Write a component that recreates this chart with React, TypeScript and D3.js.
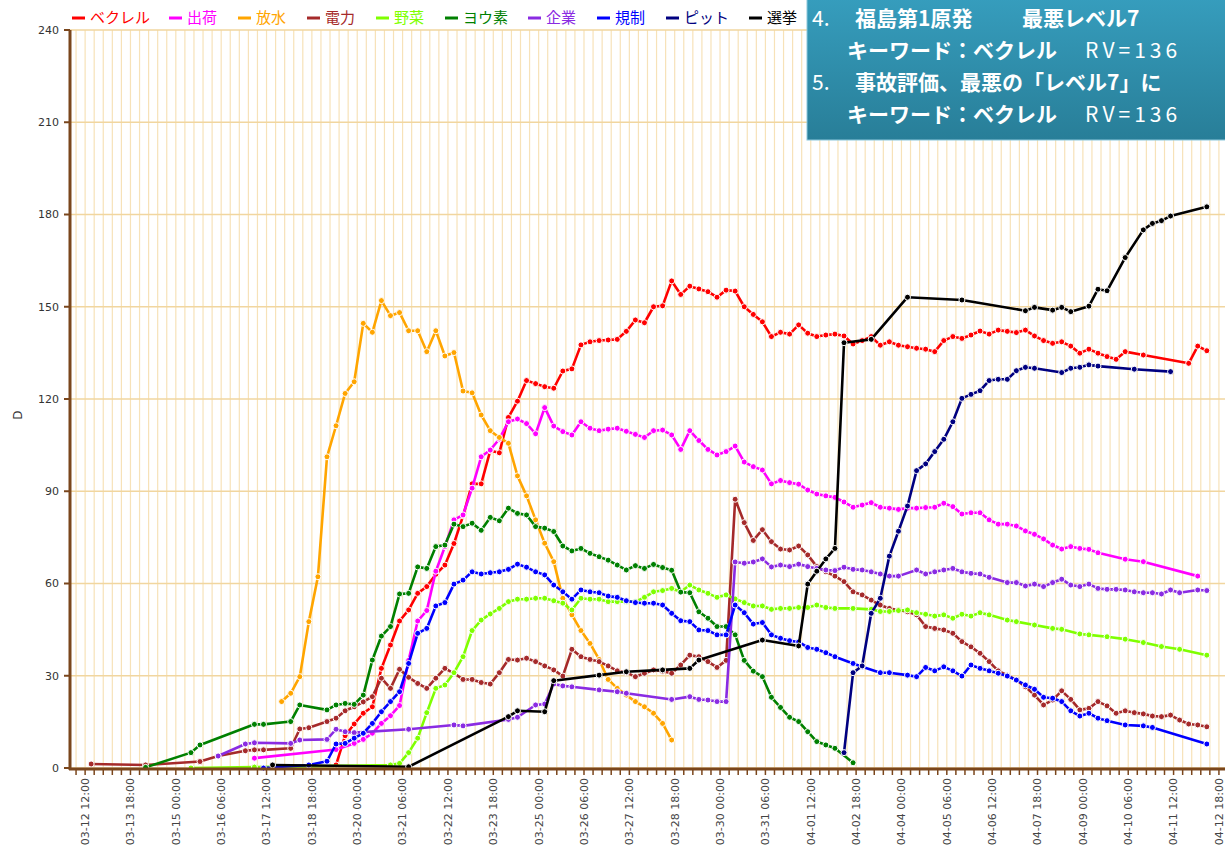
import React from 'react';
import * as d3 from 'd3';

type Pt = [string, number];

const tickLabels = [
  '03-12 12:00', '03-13 18:00', '03-15 00:00', '03-16 06:00', '03-17 12:00', '03-18 18:00',
  '03-20 00:00', '03-21 06:00', '03-22 12:00', '03-23 18:00', '03-25 00:00', '03-26 06:00',
  '03-27 12:00', '03-28 18:00', '03-30 00:00', '03-31 06:00', '04-01 12:00', '04-02 18:00',
  '04-04 00:00', '04-05 06:00', '04-06 12:00', '04-07 18:00', '04-09 00:00', '04-10 06:00',
  '04-11 12:00', '04-12 18:00',
];
const yTicks = [0, 30, 60, 90, 120, 150, 180, 210, 240];

const becquerel: Pt[] = [
  ['03-19 10', 1], ['03-19 16', 10.5], ['03-19 22', 14.3], ['03-20 04', 17.8], ['03-20 10', 19.9],
  ['03-20 16', 32.4], ['03-20 22', 40], ['03-21 04', 47.8], ['03-21 10', 51.4], ['03-21 16', 56.8],
  ['03-21 22', 59], ['03-22 04', 63], ['03-22 10', 66], ['03-22 16', 73], ['03-22 22', 82],
  ['03-23 04', 92.4], ['03-23 10', 92.4], ['03-23 16', 103.2], ['03-23 22', 102.5], ['03-24 04', 114],
  ['03-24 10', 119.3], ['03-24 16', 126], ['03-24 22', 125], ['03-25 04', 124], ['03-25 10', 123.5],
  ['03-25 16', 129.1], ['03-25 22', 129.8], ['03-26 04', 137.6], ['03-26 10', 138.6], ['03-26 16', 139],
  ['03-26 22', 139.2], ['03-27 04', 139.4], ['03-27 10', 142], ['03-27 16', 145.7], ['03-27 22', 144.8],
  ['03-28 04', 150], ['03-28 10', 150.3], ['03-28 16', 158.4], ['03-28 22', 154], ['03-29 04', 156.7],
  ['03-29 10', 155.8], ['03-29 16', 154.9], ['03-29 22', 153.1], ['03-30 04', 155.4], ['03-30 10', 155.1],
  ['03-30 16', 150], ['03-30 22', 147.5], ['03-31 04', 145.1], ['03-31 10', 140.3], ['03-31 16', 141.7],
  ['03-31 22', 141.1], ['04-01 04', 144.1], ['04-01 10', 141.4], ['04-01 16', 140.3], ['04-01 22', 140.8],
  ['04-02 04', 141.1], ['04-02 10', 140.5], ['04-02 16', 137.9], ['04-02 22', 139], ['04-03 04', 140.3],
  ['04-03 10', 137.5], ['04-03 16', 138.6], ['04-03 22', 137.5], ['04-04 04', 137], ['04-04 10', 136.5],
  ['04-04 16', 136.2], ['04-04 22', 135.4], ['04-05 04', 139], ['04-05 10', 140.3], ['04-05 16', 139.7],
  ['04-05 22', 140.8], ['04-06 04', 142.1], ['04-06 10', 141.1], ['04-06 16', 142.4], ['04-06 22', 142],
  ['04-07 04', 141.6], ['04-07 10', 142.4], ['04-07 16', 140.5], ['04-07 22', 139], ['04-08 04', 138.1],
  ['04-08 10', 138.6], ['04-08 16', 137.2], ['04-08 22', 134.9], ['04-09 04', 136.2], ['04-09 10', 134.9],
  ['04-09 16', 133.8], ['04-09 22', 132.9], ['04-10 04', 135.4], ['04-10 16', 134.3], ['04-11 22', 131.6],
  ['04-12 04', 137.2], ['04-12 10', 135.7],
];

const shipment: Pt[] = [
  ['03-17 04', 3.2], ['03-19 10', 6], ['03-19 22', 8], ['03-20 04', 9.3], ['03-20 10', 11.3],
  ['03-20 16', 14.5], ['03-20 22', 17], ['03-21 04', 20.3], ['03-21 10', 35], ['03-21 16', 47.8],
  ['03-21 22', 51.2], ['03-22 04', 64], ['03-22 10', 72], ['03-22 16', 80.7], ['03-22 22', 82.3],
  ['03-23 04', 91], ['03-23 10', 101.2], ['03-23 16', 103.4], ['03-23 22', 107], ['03-24 04', 112.6],
  ['03-24 10', 113.5], ['03-24 16', 112], ['03-24 22', 108.7], ['03-25 04', 117.2], ['03-25 10', 111.2],
  ['03-25 16', 109.4], ['03-25 22', 108.3], ['03-26 04', 112.6], ['03-26 10', 110.5], ['03-26 16', 109.7],
  ['03-26 22', 110.2], ['03-27 04', 110.5], ['03-27 10', 109.5], ['03-27 16', 108.5], ['03-27 22', 107.5],
  ['03-28 04', 109.7], ['03-28 10', 109.9], ['03-28 16', 108.3], ['03-28 22', 103.6], ['03-29 04', 109.7],
  ['03-29 10', 106.5], ['03-29 16', 103.6], ['03-29 22', 101.8], ['03-30 04', 102.9], ['03-30 10', 104.7],
  ['03-30 16', 99.5], ['03-30 22', 98], ['03-31 04', 96.9], ['03-31 10', 92.4], ['03-31 16', 93.5],
  ['03-31 22', 92.8], ['04-01 04', 92.3], ['04-01 10', 90.4], ['04-01 16', 89.1], ['04-01 22', 88.5],
  ['04-02 04', 88], ['04-02 10', 86.5], ['04-02 16', 84.8], ['04-02 22', 85.5], ['04-03 04', 86.3],
  ['04-03 10', 84.8], ['04-03 16', 84.5], ['04-03 22', 84.1], ['04-04 04', 84.5], ['04-04 10', 84.5],
  ['04-04 16', 84.7], ['04-04 22', 84.8], ['04-05 04', 86.1], ['04-05 10', 85], ['04-05 16', 82.6],
  ['04-05 22', 83], ['04-06 04', 83], ['04-06 10', 80.7], ['04-06 16', 79.3], ['04-06 22', 79.3],
  ['04-07 04', 78.7], ['04-07 10', 77.1], ['04-07 16', 76], ['04-07 22', 74.5], ['04-08 04', 72.5],
  ['04-08 10', 71.2], ['04-08 16', 72], ['04-08 22', 71.4], ['04-09 04', 71.1], ['04-09 10', 70],
  ['04-10 04', 67.9], ['04-10 16', 67.1], ['04-12 04', 62.4],
];

const water: Pt[] = [
  ['03-17 22', 21.6], ['03-18 04', 24.3], ['03-18 10', 29.7], ['03-18 16', 47.6], ['03-18 22', 62.2],
  ['03-19 04', 101.2], ['03-19 10', 111.3], ['03-19 16', 121.8], ['03-19 22', 125.6], ['03-20 04', 144.6],
  ['03-20 10', 141.7], ['03-20 16', 152], ['03-20 22', 147.1], ['03-21 04', 148.1], ['03-21 10', 142.2],
  ['03-21 16', 142.2], ['03-21 22', 135.4], ['03-22 04', 142.2], ['03-22 10', 134], ['03-22 16', 135.1],
  ['03-22 22', 122.6], ['03-23 04', 122], ['03-23 10', 114.8], ['03-23 16', 109.7], ['03-23 22', 107.5],
  ['03-24 04', 105.6], ['03-24 10', 95], ['03-24 16', 88.5], ['03-24 22', 80.7], ['03-25 04', 73.1],
  ['03-25 10', 67.1], ['03-25 16', 55.2], ['03-25 22', 49.8], ['03-26 04', 44.7], ['03-26 10', 40.5],
  ['03-26 16', 35.3], ['03-26 22', 28.8], ['03-27 04', 25.9], ['03-27 10', 23.7], ['03-27 16', 21.6],
  ['03-27 22', 19.9], ['03-28 04', 17.8], ['03-28 10', 14.5], ['03-28 16', 9.1],
];

const power: Pt[] = [
  ['03-12 16', 1.3], ['03-14 04', 1], ['03-15 16', 2.1], ['03-16 04', 3.9], ['03-16 22', 5.6],
  ['03-17 04', 5.9], ['03-17 10', 5.9], ['03-18 04', 6.4], ['03-18 10', 12.7], ['03-18 16', 13.1],
  ['03-19 04', 15.1], ['03-19 10', 16.2], ['03-19 16', 18.6], ['03-19 22', 19.9], ['03-20 04', 21.5],
  ['03-20 10', 23.2], ['03-20 16', 29.2], ['03-20 22', 25.9], ['03-21 04', 32.1], ['03-21 10', 29.5],
  ['03-21 16', 27.5], ['03-21 22', 25.9], ['03-22 04', 29.2], ['03-22 10', 32.4], ['03-22 16', 30.8],
  ['03-22 22', 28.8], ['03-23 04', 28.8], ['03-23 10', 27.8], ['03-23 16', 27.3], ['03-23 22', 31],
  ['03-24 04', 35.3], ['03-24 10', 35.1], ['03-24 16', 35.7], ['03-24 22', 34.6], ['03-25 04', 33.2],
  ['03-25 10', 31.9], ['03-25 16', 29.9], ['03-25 22', 38.6], ['03-26 04', 36.2], ['03-26 10', 35.3],
  ['03-26 16', 34.6], ['03-26 22', 33.2], ['03-27 04', 31.6], ['03-27 10', 31], ['03-27 16', 29.7],
  ['03-27 22', 30.8], ['03-28 04', 31.9], ['03-28 10', 31.5], ['03-28 16', 30.8], ['03-28 22', 33.5],
  ['03-29 04', 36.7], ['03-29 10', 36.2], ['03-29 16', 34.6], ['03-29 22', 32.7], ['03-30 04', 35],
  ['03-30 10', 87.4], ['03-30 16', 79.8], ['03-30 22', 74], ['03-31 04', 77.5], ['03-31 10', 73.6],
  ['03-31 16', 71.2], ['03-31 22', 70.9], ['04-01 04', 72.2], ['04-01 10', 69.3], ['04-01 16', 65.5],
  ['04-01 22', 63.8], ['04-02 04', 62.4], ['04-02 10', 60.6], ['04-02 16', 57.3], ['04-02 22', 56.3],
  ['04-03 04', 54.6], ['04-03 10', 53], ['04-03 16', 51.9], ['04-03 22', 51.4], ['04-04 04', 50.8],
  ['04-04 10', 49.8], ['04-04 16', 46], ['04-04 22', 45.4], ['04-05 04', 44.9], ['04-05 10', 43.8],
  ['04-05 16', 41.1], ['04-05 22', 39.4], ['04-06 04', 37.3], ['04-06 10', 34.6], ['04-06 16', 31.6],
  ['04-06 22', 30.2], ['04-07 04', 28.6], ['04-07 10', 26.4], ['04-07 16', 23.7], ['04-07 22', 20.5],
  ['04-08 04', 22.1], ['04-08 10', 25.1], ['04-08 16', 22.3], ['04-08 22', 18.9], ['04-09 04', 19.4],
  ['04-09 10', 21.6], ['04-09 16', 20.2], ['04-09 22', 17.8], ['04-10 04', 18.6], ['04-10 10', 18],
  ['04-10 16', 17.6], ['04-10 22', 16.9], ['04-11 04', 16.7], ['04-11 10', 17.2], ['04-11 16', 15.6],
  ['04-11 22', 14.3], ['04-12 04', 14], ['04-12 10', 13.4],
];

const vegetables: Pt[] = [
  ['03-15 10', 0], ['03-17 04', 0.3], ['03-20 22', 1], ['03-21 04', 1.5], ['03-21 10', 5],
  ['03-21 16', 9.7], ['03-21 22', 18], ['03-22 04', 25.9], ['03-22 10', 27], ['03-22 16', 31],
  ['03-22 22', 36.2], ['03-23 04', 44.7], ['03-23 10', 48.1], ['03-23 16', 50.1], ['03-23 22', 51.9],
  ['03-24 04', 54.1], ['03-24 10', 54.9], ['03-24 16', 54.9], ['03-24 22', 55.2], ['03-25 04', 55.2],
  ['03-25 10', 54.4], ['03-25 16', 53.6], ['03-25 22', 51.4], ['03-26 04', 55.2], ['03-26 10', 54.9],
  ['03-26 16', 54.9], ['03-26 22', 54.1], ['03-27 04', 54.1], ['03-27 10', 54.1], ['03-27 16', 54.1],
  ['03-27 22', 55.5], ['03-28 04', 57.3], ['03-28 10', 57.7], ['03-28 16', 58.4], ['03-28 22', 57.3],
  ['03-29 04', 59.5], ['03-29 10', 57.9], ['03-29 16', 56.8], ['03-29 22', 55.5], ['03-30 04', 56.3],
  ['03-30 10', 55], ['03-30 16', 53.8], ['03-30 22', 52.7], ['03-31 04', 52.7], ['03-31 10', 51.6],
  ['03-31 16', 51.9], ['03-31 22', 51.9], ['04-01 04', 52.2], ['04-01 10', 52.2], ['04-01 16', 53],
  ['04-01 22', 52.2], ['04-02 04', 51.9], ['04-02 16', 51.9], ['04-03 04', 51.6], ['04-03 10', 50.9],
  ['04-03 16', 50.9], ['04-03 22', 51.2], ['04-04 04', 51.4], ['04-04 10', 50.5], ['04-04 16', 50],
  ['04-04 22', 49.4], ['04-05 04', 49.8], ['04-05 10', 48.7], ['04-05 16', 50], ['04-05 22', 49.4],
  ['04-06 04', 50.5], ['04-06 10', 49.8], ['04-06 22', 48.1], ['04-07 04', 47.6], ['04-07 16', 46.5],
  ['04-08 04', 45.4], ['04-08 10', 45.1], ['04-08 22', 43.6], ['04-09 04', 43.3], ['04-09 16', 42.7],
  ['04-10 04', 41.9], ['04-10 16', 40.8], ['04-11 04', 39.5], ['04-11 16', 38.6], ['04-12 10', 36.7],
];

const iodine: Pt[] = [
  ['03-14 04', 0.2], ['03-15 10', 5], ['03-15 16', 7.5], ['03-17 04', 14.2], ['03-17 10', 14.2],
  ['03-18 04', 15.1], ['03-18 10', 20.5], ['03-19 04', 18.9], ['03-19 10', 20.5], ['03-19 16', 21],
  ['03-19 22', 20.7], ['03-20 04', 23.7], ['03-20 10', 35.1], ['03-20 16', 42.9], ['03-20 22', 46],
  ['03-21 04', 56.6], ['03-21 10', 56.8], ['03-21 16', 65.4], ['03-21 22', 64.9], ['03-22 04', 72],
  ['03-22 10', 72.5], ['03-22 16', 79.3], ['03-22 22', 78.5], ['03-23 04', 79.6], ['03-23 10', 77.3],
  ['03-23 16', 81.5], ['03-23 22', 80.4], ['03-24 04', 84.5], ['03-24 10', 82.8], ['03-24 16', 82.3],
  ['03-24 22', 78.5], ['03-25 04', 78], ['03-25 10', 76.9], ['03-25 16', 72.2], ['03-25 22', 70.6],
  ['03-26 04', 71.4], ['03-26 10', 69.8], ['03-26 16', 68.7], ['03-26 22', 67.6], ['03-27 04', 66],
  ['03-27 10', 64.4], ['03-27 16', 65.8], ['03-27 22', 64.9], ['03-28 04', 66.2], ['03-28 10', 65.2],
  ['03-28 16', 64.3], ['03-28 22', 57.2], ['03-29 04', 57], ['03-29 10', 50.8], ['03-29 16', 48.7],
  ['03-29 22', 46], ['03-30 04', 46], ['03-30 10', 43.3], ['03-30 16', 35], ['03-30 22', 31.5],
  ['03-31 04', 29.7], ['03-31 10', 23], ['03-31 16', 19.7], ['03-31 22', 16.5], ['04-01 04', 15.1],
  ['04-01 10', 11.8], ['04-01 16', 8.6], ['04-01 22', 7.5], ['04-02 04', 6.4], ['04-02 16', 1.7],
];

const company: Pt[] = [
  ['03-16 04', 3.9], ['03-16 22', 7.8], ['03-17 04', 8.2], ['03-18 04', 8], ['03-18 10', 9.1],
  ['03-19 04', 9.3], ['03-19 10', 12.6], ['03-19 16', 11.8], ['03-19 22', 11.5], ['03-21 10', 12.6],
  ['03-22 16', 14], ['03-22 22', 13.7], ['03-24 04', 15.8], ['03-24 10', 16.5], ['03-24 22', 20.5],
  ['03-25 04', 20.8], ['03-25 10', 27.3], ['03-25 16', 26.7], ['03-25 22', 26.4], ['03-26 16', 25.4],
  ['03-27 04', 24.8], ['03-27 10', 24.3], ['03-28 16', 22.3], ['03-29 04', 23.2], ['03-29 10', 22.3],
  ['03-29 16', 22.1], ['03-29 22', 21.6], ['03-30 04', 21.6], ['03-30 10', 67], ['03-30 16', 66.6],
  ['03-30 22', 67], ['03-31 04', 68], ['03-31 10', 65.4], ['03-31 16', 66], ['03-31 22', 65.5],
  ['04-01 04', 66.3], ['04-01 10', 65.5], ['04-01 16', 64.9], ['04-01 22', 64.4], ['04-02 04', 64.2],
  ['04-02 10', 65.3], ['04-02 16', 64.6], ['04-02 22', 64.4], ['04-03 04', 63.8], ['04-03 10', 63.1],
  ['04-03 16', 62.4], ['04-03 22', 62.4], ['04-04 10', 64.4], ['04-04 16', 63.1], ['04-04 22', 63.8],
  ['04-05 04', 64.4], ['04-05 10', 64.9], ['04-05 16', 63.8], ['04-05 22', 63.3], ['04-06 04', 63.1],
  ['04-06 10', 62], ['04-06 22', 60.3], ['04-07 04', 60.3], ['04-07 10', 59.2], ['04-07 16', 59.8],
  ['04-07 22', 59], ['04-08 04', 60.3], ['04-08 10', 61.4], ['04-08 16', 59.5], ['04-08 22', 59],
  ['04-09 04', 59.8], ['04-09 10', 58.4], ['04-09 16', 58.1], ['04-09 22', 58.1], ['04-10 04', 57.9],
  ['04-10 10', 57.3], ['04-10 16', 57], ['04-10 22', 57], ['04-11 04', 56.6], ['04-11 10', 57.9],
  ['04-11 16', 57], ['04-12 04', 57.9], ['04-12 10', 57.7],
];

const regulation: Pt[] = [
  ['03-17 10', 0], ['03-18 16', 1], ['03-19 04', 2.2], ['03-19 10', 7.8], ['03-19 16', 8],
  ['03-19 22', 9.7], ['03-20 04', 11.3], ['03-20 10', 14.5], ['03-20 16', 18.3], ['03-20 22', 21.6],
  ['03-21 04', 24.8], ['03-21 10', 34], ['03-21 16', 43.8], ['03-21 22', 45.4], ['03-22 04', 52.7],
  ['03-22 10', 53.8], ['03-22 16', 59.8], ['03-22 22', 61.1], ['03-23 04', 63.8], ['03-23 10', 63.1],
  ['03-23 16', 63.5], ['03-23 22', 63.8], ['03-24 04', 64.6], ['03-24 10', 66.3], ['03-24 16', 65.3],
  ['03-24 22', 63.8], ['03-25 04', 62.8], ['03-25 10', 59.5], ['03-25 16', 57.3], ['03-25 22', 54.9],
  ['03-26 04', 57.9], ['03-26 10', 57.3], ['03-26 16', 57], ['03-26 22', 55.9], ['03-27 04', 55.5],
  ['03-27 10', 54.4], ['03-27 16', 53.8], ['03-27 22', 53.6], ['03-28 04', 53.6], ['03-28 10', 53],
  ['03-28 16', 50.3], ['03-28 22', 47.9], ['03-29 04', 47.6], ['03-29 10', 44.9], ['03-29 16', 44.7],
  ['03-29 22', 43.3], ['03-30 04', 43.3], ['03-30 10', 53], ['03-30 16', 50.5], ['03-30 22', 46.8],
  ['03-31 04', 47.3], ['03-31 10', 43.3], ['03-31 16', 42.2], ['03-31 22', 41.4], ['04-01 04', 41],
  ['04-01 10', 39.2], ['04-01 16', 38.6], ['04-01 22', 37.5], ['04-02 04', 36.2], ['04-02 16', 34],
  ['04-02 22', 32.9], ['04-03 10', 31], ['04-03 16', 31], ['04-04 04', 30.2], ['04-04 10', 29.7],
  ['04-04 16', 32.7], ['04-04 22', 31.6], ['04-05 04', 32.9], ['04-05 10', 31.6], ['04-05 16', 29.9],
  ['04-05 22', 33.5], ['04-06 04', 32.4], ['04-06 10', 31.6], ['04-06 16', 30.8], ['04-06 22', 29.9],
  ['04-07 04', 28.6], ['04-07 10', 27], ['04-07 16', 25.6], ['04-07 22', 23], ['04-08 04', 22.7],
  ['04-08 10', 21.6], ['04-08 16', 18.6], ['04-08 22', 16.9], ['04-09 04', 17.8], ['04-09 10', 16.2],
  ['04-09 16', 15.4], ['04-10 04', 14], ['04-10 16', 13.7], ['04-10 22', 13.2], ['04-12 10', 7.8],
];

const pit: Pt[] = [
  ['04-02 10', 5], ['04-02 16', 31], ['04-02 22', 33.2], ['04-03 04', 50.3], ['04-03 10', 55.2],
  ['04-03 16', 68.9], ['04-03 22', 77], ['04-04 04', 85.2], ['04-04 10', 96.7], ['04-04 16', 98.9],
  ['04-04 22', 102.9], ['04-05 04', 106.9], ['04-05 10', 112.6], ['04-05 16', 120.2], ['04-05 22', 121.5],
  ['04-06 04', 122.7], ['04-06 10', 126], ['04-06 16', 126.4], ['04-06 22', 126.4], ['04-07 04', 129.2],
  ['04-07 10', 130.3], ['04-07 16', 130], ['04-08 10', 128.6], ['04-08 16', 130], ['04-08 22', 130.3],
  ['04-09 04', 131.1], ['04-09 10', 130.7], ['04-10 10', 129.7], ['04-11 10', 128.9],
];

const election: Pt[] = [
  ['03-17 16', 1], ['03-21 10', 0.4], ['03-24 04', 16.7], ['03-24 10', 18.6], ['03-25 04', 18.3],
  ['03-25 10', 28.4], ['03-26 16', 30.2], ['03-27 10', 31.3], ['03-28 10', 31.9], ['03-29 04', 32.4],
  ['03-29 10', 35.1], ['03-31 04', 41.6], ['04-01 04', 39.7], ['04-01 10', 59.8], ['04-01 16', 64],
  ['04-01 22', 68], ['04-02 04', 71.4], ['04-02 10', 138.3], ['04-03 04', 139.4], ['04-04 04', 153.1],
  ['04-05 16', 152.2], ['04-07 10', 148.7], ['04-07 16', 149.8], ['04-08 04', 148.9], ['04-08 10', 149.8],
  ['04-08 16', 148.4], ['04-09 04', 150.2], ['04-09 10', 155.7], ['04-09 16', 155.2], ['04-10 04', 166],
  ['04-10 16', 175], ['04-10 22', 177.1], ['04-11 04', 178], ['04-11 10', 179.5], ['04-12 10', 182.5],
];

const series = [
  { name: 'ベクレル', color: '#ff0000', data: becquerel },
  { name: '出荷', color: '#ff00ff', data: shipment },
  { name: '放水', color: '#ffa500', data: water },
  { name: '電力', color: '#a52a2a', data: power },
  { name: '野菜', color: '#7fff00', data: vegetables },
  { name: 'ヨウ素', color: '#008000', data: iodine },
  { name: '企業', color: '#8a2be2', data: company },
  { name: '規制', color: '#0000ff', data: regulation },
  { name: 'ピット', color: '#000080', data: pit },
  { name: '選挙', color: '#000000', data: election },
];

const parseTime = d3.utcParse('%m-%d %H');
const parseTick = d3.utcParse('%m-%d %H:%M');
const axisColor = '#7a461c';

export default function App() {
  const x = d3.scaleUtc()
    .domain([parseTick('03-12 02:00')!, parseTick('04-13 00:00')!])
    .range([70, 1228]);
  const y = d3.scaleLinear().domain([0, 240]).range([768, 30]);
  const line = d3.line<Pt>()
    .x(d => x(parseTime(d[0])!))
    .y(d => y(d[1]));
  const [t0, t1] = x.domain();
  const minor = d3.utcHour.every(6)!.range(t0, t1);

  // legend positions from label lengths
  let lx = 72;
  const legend = series.map(s => {
    const item = { ...s, x: lx };
    lx += s.name.length * 14 + 41;
    return item;
  });

  return (
    <svg width={1225} height={853} style={{ position: 'absolute', left: 0, top: 0, background: '#fff' }}>
      <defs>
        <linearGradient id="box" x1="0" y1="0" x2="0" y2="1">
          <stop offset="0" stopColor="#369dbd" />
          <stop offset="1" stopColor="#287e98" />
        </linearGradient>
      </defs>

      {/* grid */}
      {minor.map((t, i) => (
        <line key={'v' + i} x1={x(t)} x2={x(t)} y1={y(240)} y2={y(0)} stroke="#f7e2b8" strokeWidth={1.2} />
      ))}
      {yTicks.map(v => (
        <line key={'h' + v} x1={70} x2={1228} y1={y(v)} y2={y(v)} stroke="#f1d69f" strokeWidth={1.5} />
      ))}

      {/* series */}
      {series.map(s => (
        <g key={s.name}>
          <path d={line(s.data) ?? ''} fill="none" stroke={s.color} strokeWidth={2.6} strokeLinejoin="round" />
          {s.data.map((d, i) => (
            <circle key={i} cx={x(parseTime(d[0])!)} cy={y(d[1])} r={3} fill={s.color} stroke="#fff" strokeWidth={1} />
          ))}
        </g>
      ))}

      {/* axes */}
      <line x1={70} x2={70} y1={y(240)} y2={y(0) + 2} stroke={axisColor} strokeWidth={3} />
      <line x1={69} x2={1228} y1={y(0) + 1} y2={y(0) + 1} stroke={axisColor} strokeWidth={3} />
      {yTicks.map(v => (
        <g key={'yt' + v}>
          <line x1={64} x2={70} y1={y(v)} y2={y(v)} stroke={axisColor} strokeWidth={2} />
          <text x={59} y={y(v)} dy="0.35em" textAnchor="end" fontFamily="DejaVu Sans, Verdana, sans-serif"
            fontSize={11} fill="#333">{v}</text>
        </g>
      ))}
      {minor.map((t, i) => (
        <line key={'xt' + i} x1={x(t)} x2={x(t)} y1={y(0) + 2} y2={y(0) + 7} stroke={axisColor} strokeWidth={1.5} />
      ))}
      {tickLabels.map(l => {
        const tx = x(parseTick(l)!);
        return (
          <text key={l} transform={`translate(${tx},778) rotate(-90)`} dy="0.35em" textAnchor="end"
            fontFamily="DejaVu Sans, Verdana, sans-serif" fontSize={11} fill="#444">{l}</text>
        );
      })}
      <text transform="translate(18,415) rotate(-90)" dy="0.35em" textAnchor="middle"
        fontFamily="DejaVu Sans, Verdana, sans-serif" fontSize={12} fill="#333">D</text>

      {/* legend */}
      {legend.map(s => (
        <g key={'lg' + s.name}>
          <line x1={s.x} x2={s.x + 13} y1={18} y2={18} stroke={s.color} strokeWidth={3} />
          <text x={s.x + 18} y={18} dy="0.35em" fontFamily="'Noto Sans CJK JP', sans-serif" fontSize={15}
            fill={s.color}>{s.name}</text>
        </g>
      ))}

      {/* overlay box */}
      <rect x={807} y={-2} width={430} height={142} fill="url(#box)" stroke="#8cc8dc" strokeWidth={1} />
      <g fontFamily="'Noto Sans CJK JP', sans-serif" fontSize={21} fill="#fff">
        <text x={812} y={26}>4.</text>
        <text x={855} y={26} fontWeight="bold">福島第1原発</text>
        <text x={1022} y={26} fontWeight="bold">最悪レベル7</text>
        <text x={847} y={58} fontWeight="bold">キーワード：ベクレル</text>
        <text x={1085} y={58} letterSpacing={4}>RV=136</text>
        <text x={812} y={90}>5.</text>
        <text x={855} y={90} fontWeight="bold">事故評価、最悪の「レベル7」に</text>
        <text x={847} y={122} fontWeight="bold">キーワード：ベクレル</text>
        <text x={1085} y={122} letterSpacing={4}>RV=136</text>
      </g>
    </svg>
  );
}
